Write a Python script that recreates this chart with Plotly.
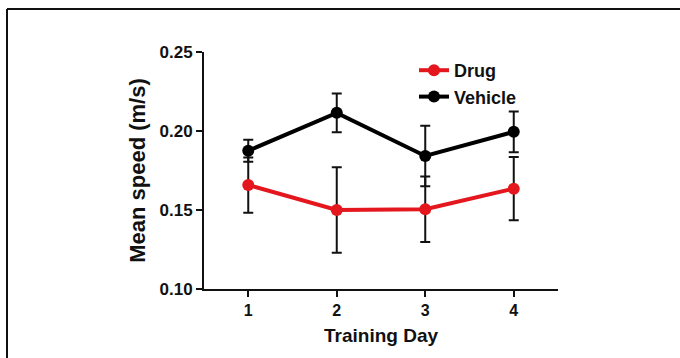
import plotly.graph_objects as go

days = [1, 2, 3, 4]
drug_mean = [0.1658, 0.1500, 0.1505, 0.1635]
drug_err = [0.0175, 0.0270, 0.0207, 0.0200]
vehicle_mean = [0.1875, 0.2115, 0.1842, 0.1995]
vehicle_err = [0.0070, 0.0123, 0.0192, 0.0129]

L, T, PW, PH = 204, 52, 354, 237

def px(xp):
    return (xp - L) / PW

def py(yp):
    return (T + PH - yp) / PH

fig = go.Figure()
fig.add_trace(go.Scatter(
    x=days, y=drug_mean, name="Drug", mode="lines+markers",
    line=dict(color="#e3171d", width=4),
    marker=dict(color="#e3171d", size=12),
    error_y=dict(type="data", array=drug_err, color="#111111", thickness=2, width=5),
))
fig.add_trace(go.Scatter(
    x=days, y=vehicle_mean, name="Vehicle", mode="lines+markers",
    line=dict(color="#000000", width=4),
    marker=dict(color="#000000", size=12),
    error_y=dict(type="data", array=vehicle_err, color="#111111", thickness=2, width=5),
))

fig.update_layout(
    width=680, height=358,
    margin=dict(l=L, r=680 - L - PW, t=T, b=358 - T - PH),
    paper_bgcolor="white", plot_bgcolor="white",
    font=dict(family="Liberation Sans, Arial", color="#111111"),
    showlegend=True,
    legend=dict(x=px(414), y=py(52), xanchor="left", yanchor="top",
                font=dict(size=18, family="Liberation Sans, Arial", weight="bold"),
                bgcolor="rgba(0,0,0,0)", tracegroupgap=0, itemwidth=30),
    shapes=[
        dict(type="line", xref="paper", yref="paper",
             x0=px(7), x1=px(700), y0=py(9), y1=py(9),
             line=dict(color="#111111", width=2)),
        dict(type="line", xref="paper", yref="paper",
             x0=px(7), x1=px(7), y0=py(9), y1=py(380),
             line=dict(color="#111111", width=2)),
    ],
)
fig.update_xaxes(
    range=[0.5, 4.5], tickvals=days, ticktext=[str(d) for d in days],
    showline=True, linecolor="#111111", linewidth=2,
    ticks="outside", ticklen=6, tickwidth=2, tickcolor="#111111",
    showgrid=False, zeroline=False,
    tickfont=dict(size=16, weight="bold"),
    title=dict(text="Training Day", font=dict(size=19, weight="bold"), standoff=10),
)
fig.update_yaxes(
    range=[0.10, 0.25], tickvals=[0.10, 0.15, 0.20, 0.25],
    ticktext=["0.10", "0.15", "0.20", "0.25"],
    showline=True, linecolor="#111111", linewidth=2,
    ticks="outside", ticklen=6, tickwidth=2, tickcolor="#111111",
    showgrid=False, zeroline=False,
    tickfont=dict(size=17, weight="bold"),
    title=dict(text="Mean speed (m/s)", font=dict(size=22, weight="bold"), standoff=8),
)

fig.write_html("out.html", config={"displayModeBar": False},
               post_script="document.body.style.margin='0';")
